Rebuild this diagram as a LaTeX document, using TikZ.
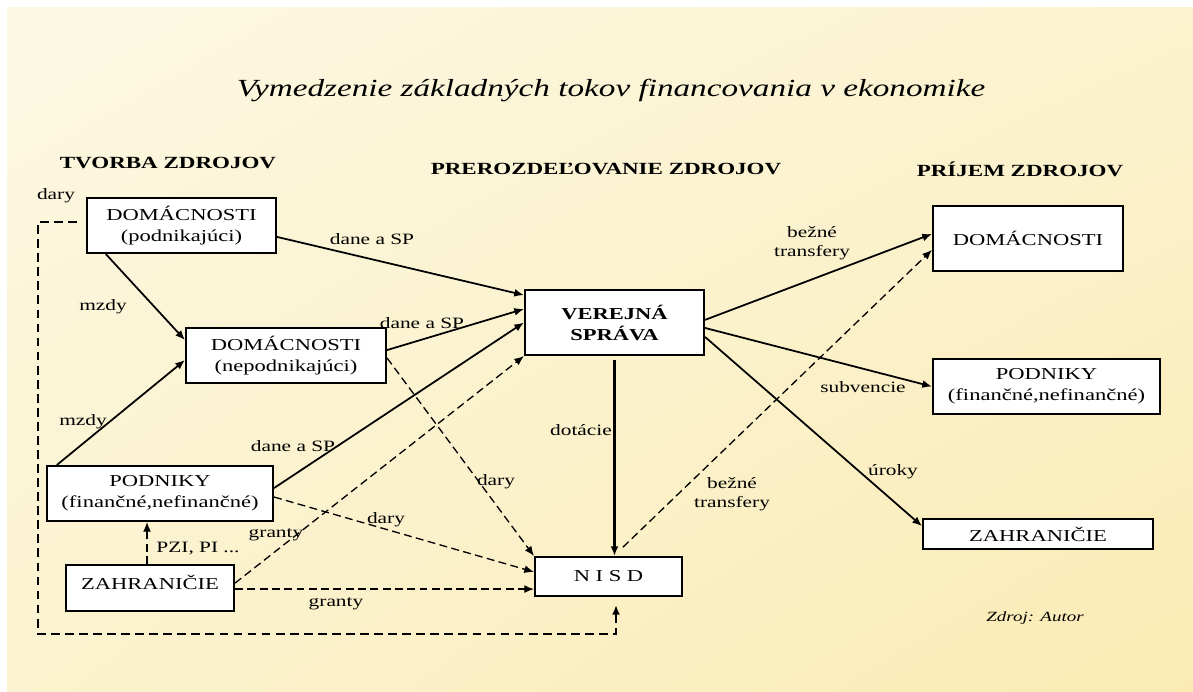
\documentclass[tikz,border=0pt]{standalone}
\usepackage{fontspec}
\setmainfont{Liberation Serif}[FakeStretch=1.35]
\usepackage{xcolor}
\usetikzlibrary{arrows.meta}
\usetikzlibrary{shadings}

\definecolor{bgtop}{HTML}{FCF8E3}
\definecolor{bgmid}{HTML}{FBF2CF}
\definecolor{bgbot}{HTML}{FBEBB3}

\begin{document}
\begin{tikzpicture}[x=0.02cm,y=-0.02cm,>={Latex[length=5.5pt,width=4.5pt]},
  box/.style={draw=black,line width=1.2pt,fill=white,align=center,inner sep=0pt,font=\fontsize{9.5}{12}\selectfont},
  head/.style={inner sep=0pt,font=\fontsize{9.7}{12}\selectfont\bfseries},
  lbl/.style={inner sep=1pt,align=center,font=\fontsize{9}{11}\selectfont},
  flow/.style={line width=1pt,->},
  dflow/.style={line width=0.75pt,dash pattern=on 4.5pt off 2.5pt,->}]

\useasboundingbox (0,0) rectangle (1193,691);
\shade[upper left=bgtop,upper right=bgmid,lower left=bgmid,lower right=bgbot] (7,7) rectangle (1193,691);

\coordinate (cdp) at (181.5,225.5);
\coordinate (cdn) at (286,355.5);
\coordinate (cpl) at (160,493.5);
\coordinate (czl) at (150,588);
\coordinate (cns) at (608.5,576.5);
\coordinate (cvs) at (614.5,322.5);
\coordinate (cdr) at (1028,238.5);
\coordinate (cpr) at (1046.5,386.5);
\coordinate (czr) at (1038,534);

  % titles
  \node (title) at (611,90) [inner sep=0pt,font=\fontsize{14}{16}\selectfont\itshape] {Vymedzenie základných tokov financovania v ekonomike};
  \node (hd1) at (168,163) [head] {TVORBA ZDROJOV};
  \node (hd2) at (606,169) [head] {PREROZDEĽOVANIE ZDROJOV};
  \node (hd3) at (1020,169) [head] {PRÍJEM ZDROJOV};
  \node (zdroj) at (1035,618) [inner sep=0pt,font=\fontsize{8}{10}\selectfont\itshape] {Zdroj: Autor};

  % boxes
  \node (dp) at (cdp) [box,minimum width=3.78cm,minimum height=1.10cm] {DOMÁCNOSTI\\(podnikajúci)};
  \node (dn) at (cdn) [box,minimum width=4.00cm,minimum height=1.10cm] {DOMÁCNOSTI\\(nepodnikajúci)};
  \node (pl) at (cpl) [box,minimum width=4.52cm,minimum height=1.10cm] {PODNIKY\\(finančné,nefinančné)};
  \node (zl) at (czl) [box,minimum width=3.36cm,minimum height=0.92cm,text depth=6.8pt] {ZAHRANIČIE};
  \node (ns) at (cns) [box,minimum width=2.94cm,minimum height=0.78cm] {N I S D};
  \node (vs) at (cvs) [box,minimum width=3.58cm,minimum height=1.30cm,font=\fontsize{9.5}{12}\selectfont\bfseries] {VEREJNÁ\\SPRÁVA};
  \node (dr) at (cdr) [box,minimum width=3.80cm,minimum height=1.30cm] {DOMÁCNOSTI};
  \node (pr) at (cpr) [box,minimum width=4.54cm,minimum height=1.10cm] {PODNIKY\\(finančné,nefinančné)};
  \node (zr) at (czr) [box,minimum width=4.60cm,minimum height=0.60cm] {ZAHRANIČIE};

  % flows into the public sector
  \draw[flow] ([yshift=-6.5pt]dp.east) to[] ([yshift=15.6pt]vs.west);
  \draw[flow] ([xshift=11.3pt]dp.south west) to[] ([yshift=8.8pt]dn.west);
  \draw[flow] ([yshift=3.1pt]dn.east) to[] ([yshift=7.7pt]vs.west);
  \draw[flow] ([xshift=6.2pt]pl.north west) to[] ([yshift=-2.6pt]dn.west);
  \draw[flow] ([yshift=3.1pt]pl.east) to[] (vs.west);
  \draw[dflow] ([yshift=2.8pt]zl.east) to[] (vs.south west);

  % flows into NISD
  \coordinate (zg) at ([yshift=-0.6pt]zl.east);
  \coordinate (zp) at ([xshift=-1.7pt]zl.north);
  \draw[dflow] ([yshift=-1.4pt]dn.east) to[] (ns.north west);
  \draw[dflow] ([yshift=-2pt]pl.east) to[] ([yshift=2.6pt]ns.west);
  \draw[dflow] (zg) to[] (zg -| ns.west);
  \draw[dflow] (zp) to[] (zp |- pl.south);
  \draw[flow,line width=1.2pt] ([yshift=-2pt]vs.south) to[] (vs.south |- ns.north);

  % flows out
  \draw[dflow] ([xshift=8.2pt,yshift=5pt]ns.north) to[] ([yshift=-6.5pt]dr.west);
  \draw[flow] ([yshift=1.5pt]vs.east) to[] ([yshift=2.6pt]dr.west);
  \draw[flow] ([yshift=-3.1pt]vs.east) to[] (pr.west);
  \draw[flow] ([yshift=-8.2pt]vs.east) to[] ([yshift=4.5pt]zr.west);

  % dary loop
  \coordinate (dl1) at (77,222);
  \coordinate (dl2) at (38,222);
  \coordinate (dl3) at (38,634);
  \coordinate (dl4) at (616,634);
  \draw[dflow,line width=1.2pt,dash pattern=on 5pt off 3pt,shorten >=4.5pt] (dl1) to[] (dl2) to[] (dl3) to[] (dl4) to[] (dl4 |- ns.south);

  % labels
  \node (ldary0) at (56,196) [lbl] {dary};
  \node (ldane1) at (372,239) [lbl] {dane a SP};
  \node (lmzdy1) at (103,307) [lbl] {mzdy};
  \node (ldane2) at (422,323) [lbl] {dane a SP};
  \node (lmzdy2) at (83,422) [lbl] {mzdy};
  \node (ldane3) at (293,446) [lbl] {dane a SP};
  \node (lgranty1) at (276,535) [lbl] {granty};
  \node (ldary1) at (496,482) [lbl] {dary};
  \node (ldary2) at (386,520) [lbl] {dary};
  \node (lgranty2) at (336,604) [lbl] {granty};
  \node (lpzi) at (198,549) [lbl] {PZI, PI ...};
  \node (ldotacie) at (581,430) [lbl] {dotácie};
  \node (lbezne1) at (732,494) [lbl] {bežné\\transfery};
  \node (lbezne2) at (812,243) [lbl] {bežné\\transfery};
  \node (lsubv) at (863,387) [lbl] {subvencie};
  \node (luroky) at (893,472) [lbl] {úroky};
\end{tikzpicture}
\end{document}
